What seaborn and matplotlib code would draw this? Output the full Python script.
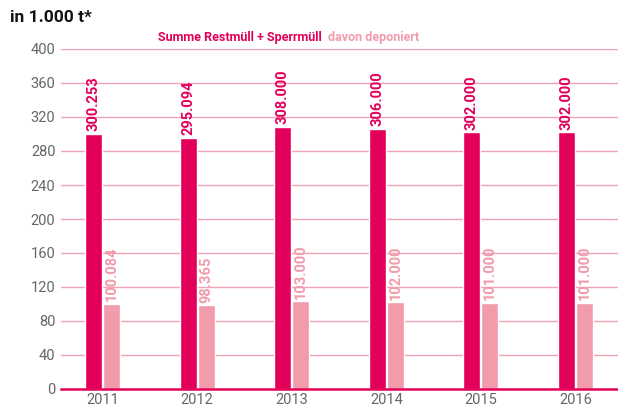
import matplotlib
matplotlib.use("Agg")
import matplotlib.pyplot as plt
import seaborn as sns
import pandas as pd

years = ["2011", "2012", "2013", "2014", "2015", "2016"]
summe = [300.253, 295.094, 308.000, 306.000, 302.000, 302.000]
deponiert = [100.084, 98.365, 103.000, 102.000, 101.000, 101.000]
summe_labels = ["300.253", "295.094", "308.000", "306.000", "302.000", "302.000"]
dep_labels = ["100.084", "98.365", "103.000", "102.000", "101.000", "101.000"]
series = ["Summe Restmüll + Sperrmüll", "davon deponiert"]
yticks = [0, 40, 80, 120, 160, 200, 240, 280, 320, 360, 400]

DARK = "#e2005a"
LIGHT = "#f29bab"
GRID = "#f0a3b3"
TICK = "#666666"

df = pd.DataFrame({
    "year": years * 2,
    "value": summe + deponiert,
    "series": [series[0]] * len(years) + [series[1]] * len(years),
})

sns.set_theme(style="white")
plt.rcParams["font.family"] = ["Roboto", "DejaVu Sans"]

fig = plt.figure(figsize=(6.18, 4.08), dpi=100)
ax = fig.add_axes([61 / 618, 1 - 389 / 408, 1 - 61 / 618, 340 / 408])

sns.barplot(data=df, x="year", y="value", hue="series", hue_order=series,
            palette=[DARK, LIGHT], width=0.38, gap=0.06, ax=ax,
            legend=False, saturation=1, errorbar=None)

ax.set_ylim(0, 400)
ax.set_xlim(-0.439, 5.449)
ax.set_yticks(yticks)
ax.set_yticklabels([str(t) for t in yticks])
ax.yaxis.grid(True, color=GRID, linewidth=1)
ax.set_axisbelow(True)
ax.tick_params(axis="y", length=0, pad=4, labelsize=10.5, labelcolor=TICK)
ax.tick_params(axis="x", length=0, pad=3, labelsize=10.5, labelcolor=TICK)
ax.set_xlabel("")
ax.set_ylabel("")
for s in ["top", "right", "left"]:
    ax.spines[s].set_visible(False)
ax.spines["bottom"].set_color(DARK)
ax.spines["bottom"].set_linewidth(1.8)

for cont, labs, col in zip(ax.containers, [summe_labels, dep_labels], [DARK, LIGHT]):
    ax.bar_label(cont, labels=labs, rotation=90, padding=2, color=col,
                 fontsize=10.5, fontweight="bold")

fig.text(10 / 618, 1 - 18 / 408, "in 1.000 t*", fontsize=12.5, fontweight="bold",
         color="#111111", va="center", ha="left")
fig.text(322 / 618, 1 - 38 / 408, series[0], fontsize=9, fontweight="bold",
         color=DARK, va="center", ha="right")
fig.text(328 / 618, 1 - 38 / 408, series[1], fontsize=9, fontweight="bold",
         color=LIGHT, va="center", ha="left")

fig.savefig("out.png", dpi=100)
